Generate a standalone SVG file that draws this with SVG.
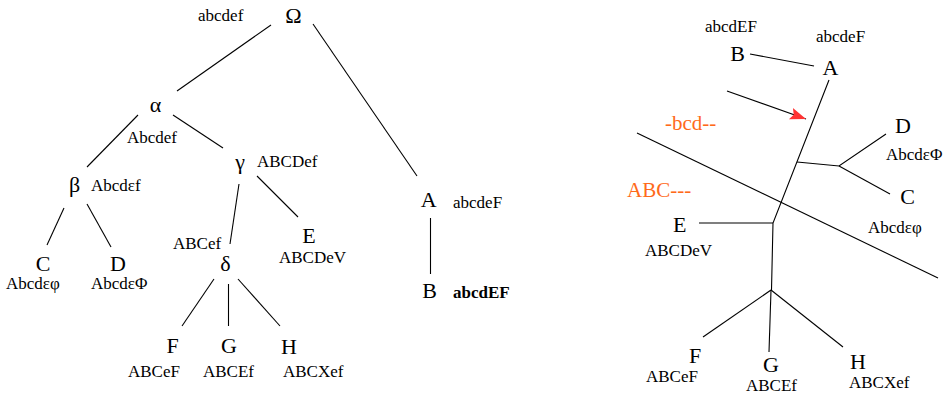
<svg xmlns="http://www.w3.org/2000/svg" width="948" height="394" viewBox="0 0 948 394">
<style>
text{font-family:'Liberation Serif',serif;fill:#000}
.n{font-size:22px;text-anchor:middle}
.l{font-size:17px}
.o{font-size:21px;fill:#ff6a1a}
.b{font-weight:bold}
.e line,.e polyline{stroke:#000;stroke-width:1.1;fill:none}
.r{stroke:#ff3333;stroke-width:1.1}
</style>
<defs>
<marker id="ah" markerUnits="userSpaceOnUse" markerWidth="18" markerHeight="14" refX="16" refY="6" orient="auto">
<path d="M0,0 L16,6 L0,12 L3,6 Z" fill="#ff3333"/>
</marker>
</defs>
<rect width="948" height="394" fill="#fff"/>
<g id="connectors" class="e">
<line x1="271" y1="25" x2="177" y2="91"/>
<line x1="313" y1="24" x2="417" y2="176"/>
<line x1="138" y1="115" x2="87" y2="167"/>
<line x1="173" y1="115" x2="223" y2="148"/>
<line x1="64" y1="208" x2="47" y2="245"/>
<line x1="87" y1="204" x2="111" y2="247"/>
<line x1="239" y1="184" x2="230" y2="244"/>
<line x1="257" y1="176" x2="298" y2="217"/>
<line x1="214" y1="279" x2="182" y2="326"/>
<line x1="228.5" y1="284" x2="228.5" y2="326"/>
<line x1="238" y1="279" x2="280" y2="326"/>
<line x1="430.5" y1="218" x2="430.5" y2="274"/>
<line x1="750" y1="54" x2="814" y2="66"/>
<polyline points="829,80 773,223 771.5,290"/>
<polyline points="797,162 839,166 886,134"/>
<line x1="839" y1="166" x2="890" y2="194"/>
<line x1="699" y1="223" x2="773" y2="223"/>
<line x1="771" y1="290" x2="703" y2="337"/>
<line x1="771" y1="290" x2="769" y2="352"/>
<line x1="771" y1="290" x2="843" y2="347"/>
<line x1="637" y1="133" x2="938" y2="278"/>
<line class="r" x1="727" y1="91" x2="806" y2="119" marker-end="url(#ah)"/>
</g>
<g font-family="Liberation Serif, serif">
<g id="L-Omega"><text class="n" x="293.5" y="23">Ω</text><text class="l" x="198" y="21">abcdef</text></g>
<g id="L-alpha"><text class="n" x="155.5" y="112">α</text><text class="l" x="127" y="143">Abcdef</text></g>
<g id="L-beta"><text class="n" x="74.5" y="192">β</text><text class="l" x="91" y="191">Abcdεf</text></g>
<g id="L-gamma"><text class="n" x="240" y="169">γ</text><text class="l" x="257" y="167">ABCDef</text></g>
<g id="L-delta"><text class="n" x="225.5" y="271">δ</text><text class="l" x="173" y="249">ABCef</text></g>
<g id="L-C"><text class="n" x="43" y="271">C</text><text class="l" x="6" y="289">Abcdεφ</text></g>
<g id="L-D"><text class="n" x="118" y="271">D</text><text class="l" x="91" y="289">AbcdεΦ</text></g>
<g id="L-E"><text class="n" x="309" y="243">E</text><text class="l" x="279" y="263">ABCDeV</text></g>
<g id="L-F"><text class="n" x="172.5" y="353">F</text><text class="l" x="128" y="377">ABCeF</text></g>
<g id="L-G"><text class="n" x="229" y="353">G</text><text class="l" x="203" y="377">ABCEf</text></g>
<g id="L-H"><text class="n" x="289" y="354">H</text><text class="l" x="283" y="377">ABCXef</text></g>
<g id="L-A"><text class="n" x="428.7" y="207">A</text><text class="l" x="453" y="208">abcdeF</text></g>
<g id="L-B"><text class="n" x="429.7" y="298">B</text><text class="l b" x="453" y="298">abcdEF</text></g>
<g id="R-A"><text class="n" x="830.5" y="75">A</text><text class="l" x="816" y="42">abcdeF</text></g>
<g id="R-B"><text class="n" x="737.5" y="61">B</text><text class="l" x="705" y="32">abcdEF</text></g>
<g id="R-D"><text class="n" x="903" y="133">D</text><text class="l" x="886" y="160">AbcdεΦ</text></g>
<g id="R-C"><text class="n" x="907.5" y="204">C</text><text class="l" x="868" y="233">Abcdεφ</text></g>
<g id="R-E"><text class="n" x="679.7" y="232">E</text><text class="l" x="645" y="256">ABCDeV</text></g>
<g id="R-F"><text class="n" x="695" y="363">F</text><text class="l" x="646" y="382">ABCeF</text></g>
<g id="R-G"><text class="n" x="771" y="372">G</text><text class="l" x="746" y="391">ABCEf</text></g>
<g id="R-H"><text class="n" x="858" y="369">H</text><text class="l" x="849" y="388">ABCXef</text></g>
<g id="labels"><text class="o" x="665" y="130">-bcd--</text><text class="o" x="627" y="197">ABC---</text></g>
</g>
</svg>
